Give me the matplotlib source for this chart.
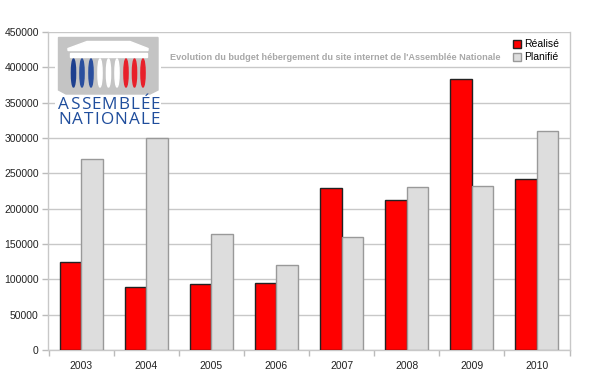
import matplotlib
matplotlib.use("Agg")
import matplotlib.pyplot as plt
from matplotlib.patches import Polygon, Rectangle, Ellipse
from matplotlib.font_manager import FontProperties
import numpy as np

plt.rcParams['font.family'] = ['Liberation Sans', 'DejaVu Sans']

years = ['2003', '2004', '2005', '2006', '2007', '2008', '2009', '2010']
realise = [124000, 89000, 93000, 95500, 229500, 212000, 384000, 242500]
planifie = [270000, 300000, 164500, 120500, 160500, 230000, 232000, 310500]
yticks = [0, 50000, 100000, 150000, 200000, 250000, 300000, 350000, 400000, 450000]
title = "Evolution du budget hébergement du site internet de l'Assemblée Nationale"

fig = plt.figure(figsize=(6, 3.76), dpi=100)
ax = fig.add_axes([48.5 / 600, 26 / 376, 521 / 600, 318 / 376])

x = np.arange(len(years))
w = 0.33
ax.bar(x - w / 2, realise, w, color='#ff0000', edgecolor='#222222', linewidth=1.0,
       label='Réalisé', zorder=3)
ax.bar(x + w / 2, planifie, w, color='#dddddd', edgecolor='#999999', linewidth=1.0,
       label='Planifié', zorder=3)

ax.set_xlim(-0.5, len(years) - 0.5)
ax.set_ylim(0, 450000)
ax.set_yticks(yticks)
ax.set_yticklabels([str(v) for v in yticks])
ax.set_xticks(x)
ax.set_xticklabels(years)
ax.set_xticks(np.arange(len(years) + 1) - 0.5, minor=True)
ax.tick_params(axis='x', which='major', length=0, pad=8, labelsize=7.5, colors='#222222')
ax.tick_params(axis='x', which='minor', length=4, width=1, color='#bbbbbb', direction='out')
ax.tick_params(axis='y', length=4, width=1, color='#bbbbbb', pad=3, labelsize=7.5,
               labelcolor='#222222')
ax.grid(axis='y', color='#c8c8c8', linewidth=1, zorder=0)
for s in ['left', 'bottom', 'right']:
    ax.spines[s].set_color('#c8c8c8')
    ax.spines[s].set_linewidth(1)
ax.spines['top'].set_visible(False)

leg = ax.legend(loc='upper left', bbox_to_anchor=(457 / 521, 1.0), frameon=False,
                fontsize=7.5, handlelength=0.8, handleheight=0.8, handletextpad=0.3,
                labelspacing=0.3, borderpad=0.2)

fig.text(335 / 600, 1 - 57 / 376, title, ha='center', va='center', fontsize=6.6,
         fontweight='bold', color='#a8a8a8')

# logo
lg = fig.add_axes([55 / 600, 1 - 133 / 376, 106 / 600, 99 / 376])
lg.set_xlim(55, 161)
lg.set_ylim(133, 34)
lg.axis('off')
lg.add_patch(Rectangle((55, 34), 106, 99, color='white', zorder=0))
lg.add_patch(Polygon([(58.5, 37.5), (158, 37.5), (158, 90), (150, 94), (66, 94), (58.5, 90)],
                     closed=True, color='#c4c4c4', zorder=1))
lg.add_patch(Polygon([(87, 41.5), (130, 41.5), (148, 48.5), (148, 50.5), (68, 50.5), (68, 48.5)],
                     closed=True, color='white', zorder=2))
lg.add_patch(Rectangle((70, 53), 77, 3.5, color='white', zorder=2))
cols = [73.5, 82, 91, 100, 108.5, 117, 126, 134.5, 143]
ccol = ['#1d3f8e', '#2a4f9e', '#2a4f9e', 'white', 'white', 'white', '#e8202a', '#e8202a', '#e8202a']
for cx, cc in zip(cols, ccol):
    lg.add_patch(Ellipse((cx, 73), 4.2, 28, color=cc, zorder=2))

renderer = fig.canvas.get_renderer()
fp = FontProperties(family='Open Sans', size=12.3)
for row, word in [(104.5, 'ASSEMBLÉE'), (120, 'NATIONALE')]:
    widths = [renderer.get_text_width_height_descent(ch, fp, ismath=False)[0] for ch in word]
    track = (101.5 - sum(widths)) / (len(word) - 1)
    xpos = 58.5
    for ch, cw in zip(word, widths):
        lg.text(xpos, row, ch, ha='left', va='center', fontproperties=fp, color='#1f4d9c')
        xpos += cw + track

fig.savefig('out.png', dpi=100)
